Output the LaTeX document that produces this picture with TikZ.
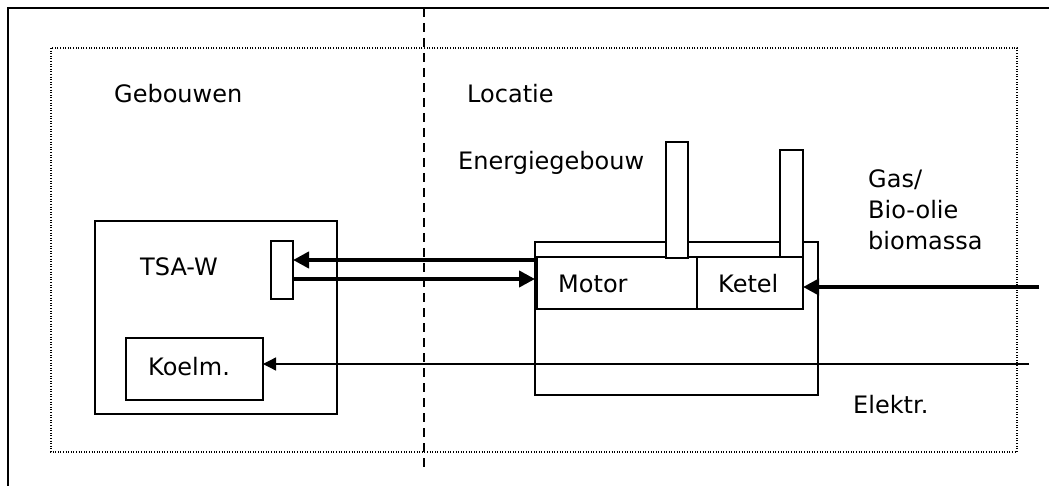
\documentclass[tikz,border=0pt]{standalone}
\usepackage{fontspec}
\setmainfont{DejaVu Sans}
\usetikzlibrary{arrows.meta}
\tikzset{
  box/.style={draw=black, line width=1.4pt, fill=white, inner sep=0pt, outer sep=0pt},
  lbl/.style={anchor=base west, inner sep=0pt, font=\fontsize{24}{31}\selectfont},
  thickarrow/.style={line width=4.5pt, -{Triangle[length=16pt,width=16pt]}},
  thinarrow/.style={line width=1.3pt, -{Triangle[length=13pt,width=13pt]}},
  dottedframe/.style={line width=1.2pt, dash pattern=on 1pt off 1.6pt},
  dashline/.style={line width=1.8pt, dash pattern=on 9pt off 6pt},
}
\begin{document}
\begin{tikzpicture}[x=1pt,y=-1pt]
\useasboundingbox (0,0) rectangle (1049,486);
% outer frame (partially visible)
\draw[line width=2.2pt] (8,486) -- (8,8) -- (1049,8);
% dotted area
\draw[dottedframe] (51,48) rectangle (1017,452);
% dashed divider
\draw[dashline] (424,8) -- (424,470);
% labels
\node[lbl] (geb) at (114,103) {Gebouwen};
\node[lbl] (loc) at (467,103) {Locatie};
\node[lbl] (eg) at (458,170) {Energiegebouw};
\node[lbl] (gas1) at (868,188) {Gas/};
\node[lbl] (gas2) at (868,219) {Bio-olie};
\node[lbl] (gas3) at (868,250) {biomassa};
\node[lbl] (el) at (853,413) {Elektr.};
% TSA-W building
\node[box, minimum width=242pt, minimum height=193pt] (tsa) at (216,317.5) {};
\node[box, minimum width=22pt, minimum height=58pt] (conn) at (282,270) {};
\node[box, minimum width=137pt, minimum height=62pt] (koelm) at (194.5,369) {};
\node[lbl] (tsat) at (140,276) {TSA-W};
\node[lbl] (koelmt) at (148,375) {Koelm.};
% Energy building
\node[box, minimum width=283pt, minimum height=153pt] (energie) at (676.5,318.5) {};
\node[box, minimum width=160pt, minimum height=52pt] (motor) at (617,283) {};
\node[box, minimum width=106pt, minimum height=52pt] (ketel) at (750,283) {};
\node[box, minimum width=22pt, minimum height=116pt] (chim1) at (677,200) {};
\node[box, minimum width=23pt, minimum height=107pt] (chim2) at (791.5,203.5) {};
\node[lbl] (motort) at (558,293) {Motor};
\node[lbl] (ketelt) at (718,293) {Ketel};
% connectors
\coordinate (y1) at (0,260);
\coordinate (y2) at (0,279);
\coordinate (gasin) at (1039,287);
\coordinate (elin) at (1029,364);
\draw[thickarrow] (energie.west |- y1) -- (conn.east |- y1);
\draw[thickarrow] (conn.east |- y2) -- (energie.west |- y2);
\draw[thickarrow] (gasin) -- (ketel.east |- gasin);
\draw[thinarrow] (elin) -- (koelm.east |- elin);
\end{tikzpicture}
\end{document}
